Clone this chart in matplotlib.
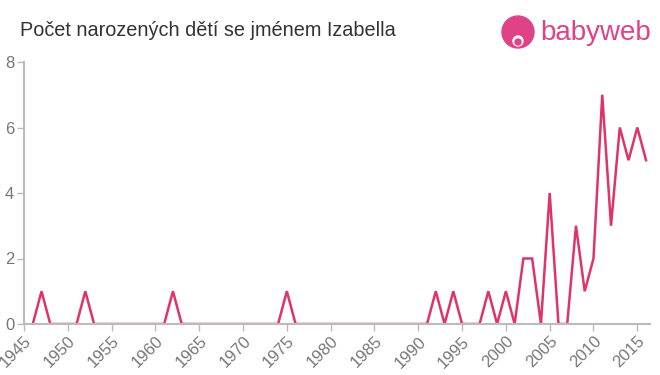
import matplotlib
matplotlib.use("Agg")
import matplotlib.pyplot as plt
from matplotlib.patches import Circle

years = list(range(1946, 2017))
counts = [
    0, 1, 0, 0, 0, 0, 1, 0, 0, 0,   # 1946-1955
    0, 0, 0, 0, 0, 0, 1, 0, 0, 0,   # 1956-1965
    0, 0, 0, 0, 0, 0, 0, 0, 0, 1,   # 1966-1975
    0, 0, 0, 0, 0, 0, 0, 0, 0, 0,   # 1976-1985
    0, 0, 0, 0, 0, 0, 1, 0, 1, 0,   # 1986-1995
    0, 0, 1, 0, 1, 0, 2, 2, 0, 4,   # 1996-2005
    0, 0, 3, 1, 2, 7, 3, 6, 5, 6,   # 2006-2015
    5,                              # 2016
]
xticks = list(range(1945, 2020, 5))
yticks = [0, 2, 4, 6, 8]
title = "Počet narozených dětí se jménem Izabella"

plt.rcParams['font.family'] = ['Liberation Sans', 'DejaVu Sans']

fig = plt.figure(figsize=(6.6, 3.75), dpi=100)
ax = fig.add_axes([24/660, 1-324/375, (650-24)/660, (324-62)/375])
ax.plot(years, counts, color='#e0336a', lw=1.8, solid_joinstyle='miter')
ax.set_xlim(1945, 2016.45)
ax.set_ylim(0, 8)
ax.set_xticks(xticks)
ax.set_xticklabels([str(t) for t in xticks], rotation=45, ha='right', va='top',
                   rotation_mode='anchor')
ax.set_yticks(yticks)
for s in ['top', 'right']:
    ax.spines[s].set_visible(False)
for s in ['left', 'bottom']:
    ax.spines[s].set_color('#bbbbbb')
    ax.spines[s].set_linewidth(1.5)
ax.tick_params(axis='both', colors='#bbbbbb', labelcolor='#777777', labelsize=12,
               length=5, width=1)
ax.tick_params(axis='x', pad=2)
ax.tick_params(axis='y', pad=2)

fig.text(20/660, 1-30/375, title, fontsize=14.3, color='#333333', va='center', ha='left')

# logo
logo_ax = fig.add_axes([0, 0, 1, 1], facecolor='none')
logo_ax.set_xlim(0, 660)
logo_ax.set_ylim(375, 0)
logo_ax.axis('off')
logo_ax.add_patch(Circle((518, 32), 16, color='#e0428a'))
logo_ax.add_patch(Circle((518, 41), 5, color='white'))
logo_ax.add_patch(Circle((518, 42), 3, color='#e0428a'))
logo_ax.text(540, 33, "babyweb", fontsize=20, color='#e0428a', va='center', ha='left')

fig.savefig("out.png", dpi=100)
